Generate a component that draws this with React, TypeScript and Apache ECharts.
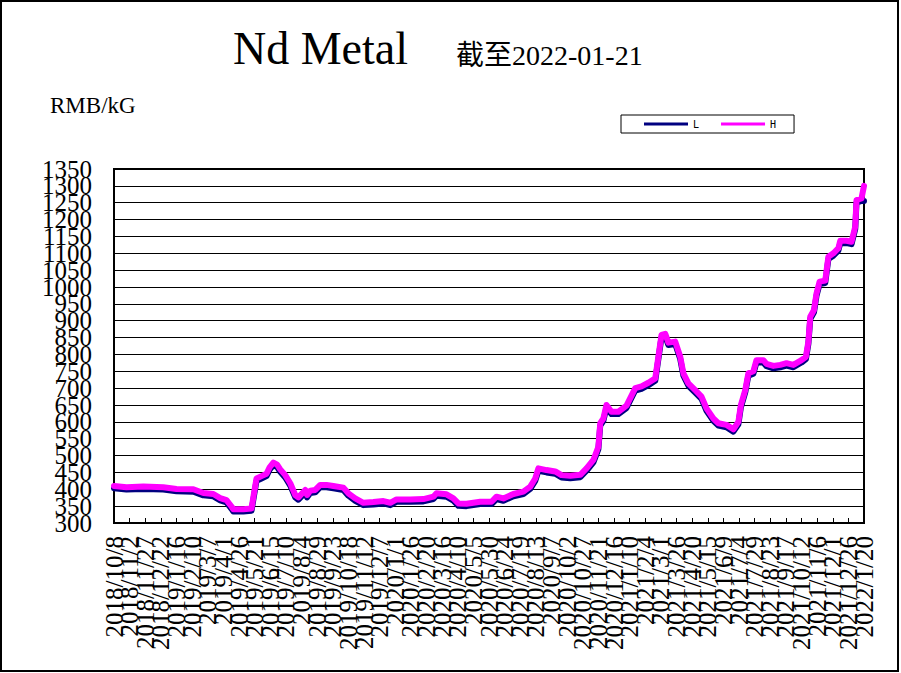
import React, { useEffect, useRef } from "react";
import * as echarts from "echarts";

// x-axis tick labels, one every 25 days starting 2018/10/8
const tickLabels = [
  "2018/10/8", "2018/11/2", "2018/11/27", "2018/12/22", "2019/1/16", "2019/2/10", "2019/3/7",
  "2019/4/1", "2019/4/26", "2019/5/21", "2019/6/15", "2019/7/10", "2019/8/4", "2019/8/29",
  "2019/9/23", "2019/10/18", "2019/11/12", "2019/12/7", "2020/1/1", "2020/1/26", "2020/2/20",
  "2020/3/16", "2020/4/10", "2020/5/5", "2020/5/30", "2020/6/24", "2020/7/19", "2020/8/13",
  "2020/9/7", "2020/10/2", "2020/10/27", "2020/11/21", "2020/12/16", "2021/1/10", "2021/2/4",
  "2021/3/1", "2021/3/26", "2021/4/20", "2021/5/15", "2021/6/9", "2021/7/4", "2021/7/29",
  "2021/8/23", "2021/9/17", "2021/10/12", "2021/11/6", "2021/12/1", "2021/12/26", "2022/1/20",
];

// days since 2018/10/8
const priceDay = [
  0, 20, 47, 79, 100, 127, 143, 159, 170, 180, 188, 191, 207, 220, 224, 228, 236, 244, 249, 255,
  261, 266, 274, 282, 290, 295, 300, 306, 309, 314, 322, 330, 340, 351, 367, 375, 386, 399, 415, 431,
  442, 452, 474, 495, 511, 516, 532, 543, 551, 564, 586, 604, 612, 623, 639, 655, 666, 674, 679, 692,
  706, 716, 730, 746, 756, 767, 775, 778, 783, 788, 796, 807, 820, 834, 844, 855, 866, 871, 876, 882,
  887, 898, 906, 911, 919, 930, 940, 948, 959, 967, 980, 991, 999, 1003, 1010, 1015, 1023, 1028, 1039, 1044,
  1055, 1066, 1076, 1087, 1100, 1107, 1111, 1114, 1120, 1124, 1129, 1138, 1143, 1151, 1159, 1162, 1172, 1180, 1186, 1188,
  1196, 1200,
];

const highPrice = [
  410, 406, 408, 406, 401, 400, 389, 386, 374, 368, 349, 341, 341, 343, 388, 432, 439, 446, 465, 479,
  473, 459, 442, 418, 383, 376, 386, 398, 383, 396, 398, 413, 413, 410, 405, 388, 373, 360, 362, 365,
  360, 370, 370, 371, 378, 388, 385, 373, 358, 357, 363, 363, 378, 373, 386, 393, 408, 432, 462, 457,
  453, 442, 440, 443, 462, 487, 526, 596, 610, 650, 630, 630, 648, 700, 705, 716, 729, 793, 858, 861,
  835, 838, 793, 744, 714, 694, 675, 640, 610, 596, 591, 578, 600, 650, 694, 744, 750, 783, 783, 772,
  766, 769, 774, 769, 783, 793, 838, 912, 932, 981, 1016, 1019, 1090, 1100, 1115, 1137, 1137, 1134, 1179, 1258,
  1263, 1300,
];

const lowPrice = [
  403, 399, 401, 399, 394, 393, 382, 379, 367, 361, 342, 334, 334, 336, 381, 425, 432, 439, 458, 472,
  466, 452, 435, 411, 376, 369, 379, 391, 376, 389, 391, 406, 406, 403, 398, 381, 366, 353, 355, 358,
  353, 363, 363, 364, 371, 381, 378, 366, 351, 350, 356, 356, 371, 366, 379, 386, 401, 425, 455, 450,
  446, 435, 433, 436, 455, 480, 519, 589, 603, 643, 623, 623, 641, 693, 698, 709, 722, 786, 851, 854,
  828, 831, 786, 737, 707, 687, 668, 633, 603, 589, 584, 571, 593, 643, 687, 737, 743, 776, 776, 765,
  759, 762, 767, 762, 776, 786, 831, 905, 925, 974, 1009, 1012, 1083, 1093, 1108, 1130, 1130, 1127, 1172, 1250,
  1255, 1255,
];

const TITLE = "Nd Metal";
const SUBTITLE = "截至2022-01-21";
const UNIT = "RMB/kG";

const X_MIN = 0;
const X_MAX = 1200;
const X_STEP = 25;
const Y_MIN = 300;
const Y_MAX = 1350;
const Y_STEP = 50;

export default function App() {
  const ref = useRef<HTMLDivElement>(null);

  useEffect(() => {
    if (!ref.current) return;
    const chart = echarts.init(ref.current, undefined, { renderer: "svg" });

    const xLabelStyle = {
      rotate: 90,
      margin: 13,
      fontFamily: "Liberation Serif",
      fontSize: 25,
      lineHeight: 12,
      color: "#000",
      hideOverlap: false,
    };
    const yLabelStyle = {
      margin: 22,
      fontFamily: "Liberation Serif",
      fontSize: 25,
      lineHeight: 14,
      color: "#000",
      hideOverlap: false,
    };
    // labels are split over two coincident axes (even / odd ticks) so that
    // all of them stay visible even though they overlap as in the reference
    const xLabel = (parity: number) => (v: number) => {
      const i = Math.round((v - X_MIN) / X_STEP);
      return i % 2 === parity ? tickLabels[i] ?? "" : "";
    };
    const yLabel = (parity: number) => (v: number) => {
      const i = Math.round((v - Y_MIN) / Y_STEP);
      return i % 2 === parity ? String(v) : "";
    };

    const option: any = {
      animation: false,
      backgroundColor: "#ffffff",
      grid: {
        left: 114,
        right: 37,
        top: 169,
        bottom: 150,
        show: true,
        borderColor: "#000",
        borderWidth: 2,
        containLabel: false,
        outerBoundsMode: "none",
      },
      legend: {
        left: 621,
        top: 115,
        padding: [4, 18, 4, 23],
        itemWidth: 44,
        itemHeight: 3,
        itemGap: 22,
        icon: "rect",
        borderColor: "#000",
        borderWidth: 1,
        textStyle: { fontFamily: "DejaVu Sans Mono", fontSize: 10, color: "#000", padding: [0, 0, 0, 0] },
        data: ["L", "H"],
      },
      xAxis: [
        {
          type: "value",
          position: "bottom",
          min: X_MIN,
          max: X_MAX,
          interval: X_STEP,
          axisLine: { show: true, lineStyle: { color: "#000", width: 2 } },
          axisTick: { show: true, inside: true, length: 5, lineStyle: { color: "#000", width: 1 } },
          splitLine: { show: false },
          axisLabel: { ...xLabelStyle, showMinLabel: true, showMaxLabel: true, formatter: xLabel(0) },
        },
        {
          type: "value",
          position: "bottom",
          min: X_MIN,
          max: X_MAX,
          interval: X_STEP,
          axisLine: { show: false },
          axisTick: { show: false },
          splitLine: { show: false },
          axisLabel: { ...xLabelStyle, showMinLabel: false, showMaxLabel: false, formatter: xLabel(1) },
        },
      ],
      yAxis: [
        {
          type: "value",
          position: "left",
          min: Y_MIN,
          max: Y_MAX,
          interval: Y_STEP,
          axisLine: { show: true, lineStyle: { color: "#000", width: 2 } },
          axisTick: { show: false },
          splitLine: { show: true, lineStyle: { color: "#000", width: 1 } },
          axisLabel: { ...yLabelStyle, showMinLabel: true, showMaxLabel: false, formatter: yLabel(0) },
        },
        {
          type: "value",
          position: "left",
          min: Y_MIN,
          max: Y_MAX,
          interval: Y_STEP,
          axisLine: { show: false },
          axisTick: { show: false },
          splitLine: { show: false },
          axisLabel: { ...yLabelStyle, showMinLabel: false, showMaxLabel: true, formatter: yLabel(1) },
        },
      ],
      series: [
        {
          name: "L",
          type: "line",
          xAxisIndex: 0,
          yAxisIndex: 0,
          data: priceDay.map((d, i) => [d, lowPrice[i]]),
          showSymbol: false,
          symbol: "none",
          lineStyle: { color: "#000080", width: 6, cap: "round", join: "round" },
          itemStyle: { color: "#000080" },
        },
        {
          name: "H",
          type: "line",
          xAxisIndex: 0,
          yAxisIndex: 0,
          data: priceDay.map((d, i) => [d, highPrice[i]]),
          showSymbol: false,
          symbol: "none",
          lineStyle: { color: "#ff00ff", width: 6, cap: "round", join: "round" },
          itemStyle: { color: "#ff00ff" },
        },
      ],
      graphic: [
        {
          type: "rect",
          shape: { x: 1, y: 1, width: 897, height: 670 },
          style: { fill: "none", stroke: "#000", lineWidth: 2 },
          silent: true,
        },
        {
          type: "text",
          x: 233,
          y: 48,
          style: {
            text: TITLE,
            fontFamily: "Liberation Serif",
            fontSize: 46,
            fill: "#000",
            align: "left",
            verticalAlign: "middle",
          },
        },
        {
          type: "text",
          x: 456,
          y: 55,
          style: {
            text: SUBTITLE,
            fontFamily: "'Liberation Serif', 'Noto Sans CJK SC'",
            fontSize: 28,
            fill: "#000",
            align: "left",
            verticalAlign: "middle",
          },
        },
        {
          type: "text",
          x: 50,
          y: 105,
          style: {
            text: UNIT,
            fontFamily: "Liberation Serif",
            fontSize: 23,
            fill: "#000",
            align: "left",
            verticalAlign: "middle",
          },
        },
      ],
    };
    chart.setOption(option);
    return () => chart.dispose();
  }, []);

  return (
    <div
      ref={ref}
      style={{ position: "absolute", left: 0, top: 0, width: 901, height: 673, background: "#fff" }}
    />
  );
}
